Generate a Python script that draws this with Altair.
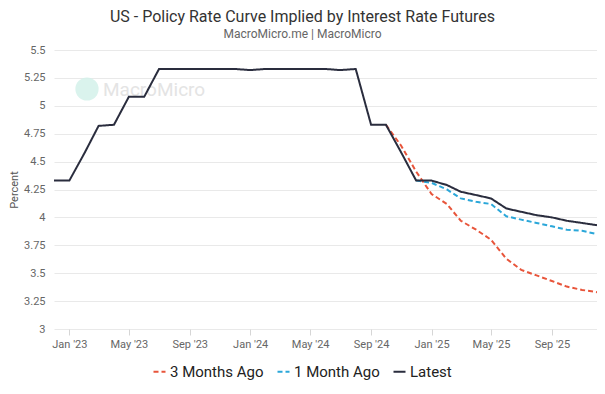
import altair as alt
import pandas as pd

# ---- data ----
months = pd.date_range("2022-12-01", "2025-12-01", freq="MS").strftime("%Y-%m-%d").tolist()

latest = [4.33,
          4.33, 4.58, 4.82, 4.83, 5.08, 5.08, 5.33, 5.33, 5.33, 5.33, 5.33, 5.33,
          5.32, 5.33, 5.33, 5.33, 5.33, 5.33, 5.32, 5.33, 4.83, 4.83, 4.58, 4.33,
          4.33, 4.29, 4.23, 4.20, 4.17, 4.08, 4.05, 4.02, 4.00, 3.97, 3.95, 3.93]

one_month_start = "2024-12-01"
one_month = [4.33, 4.31, 4.25, 4.17, 4.14, 4.12, 4.01, 3.98, 3.95, 3.92, 3.89, 3.88, 3.85]

three_month_start = "2024-10-01"
three_months = [4.83, 4.64, 4.41, 4.21, 4.12, 3.97, 3.89, 3.80, 3.63, 3.53, 3.48, 3.43, 3.38, 3.35, 3.33]

series_names = ["3 Months Ago", "1 Month Ago", "Latest"]
series_colors = ["#e8553b", "#2ba7d9", "#2a2d3e"]
y_ticks = [3, 3.25, 3.5, 3.75, 4, 4.25, 4.5, 4.75, 5, 5.25, 5.5]

rows = []
i3 = months.index(three_month_start)
for d, v in zip(months[i3:], three_months):
    rows.append({"date": d, "value": v, "series": "3 Months Ago"})
i1 = months.index(one_month_start)
for d, v in zip(months[i1:], one_month):
    rows.append({"date": d, "value": v, "series": "1 Month Ago"})
for d, v in zip(months, latest):
    rows.append({"date": d, "value": v, "series": "Latest"})
df = pd.DataFrame(rows)

FONT = "Roboto"

x_ticks = [alt.DateTime(year=y, month=m, date=1, utc=True)
           for y in (2023, 2024, 2025) for m in (1, 5, 9)]

lines = alt.Chart(df).mark_line(strokeWidth=2).encode(
    x=alt.X("date:T",
            scale=alt.Scale(type="utc",
                            domain=[alt.DateTime(year=2022, month=12, date=1, utc=True),
                                    alt.DateTime(year=2025, month=12, date=1, utc=True)]),
            axis=alt.Axis(title=None, values=x_ticks, format="%b '%y", grid=False,
                          domain=False, ticks=True, tickSize=6, tickColor="#d6d6d6",
                          labelPadding=3, labelColor="#666666", labelFontSize=11)),
    y=alt.Y("value:Q",
            scale=alt.Scale(domain=[3, 5.5], nice=False, zero=False),
            axis=alt.Axis(title="Percent", values=y_ticks,
                          labelExpr="datum.value + ''", domain=False, ticks=False, labelPadding=9,
                          gridColor="#e9e9e9", labelColor="#666666", labelFontSize=11,
                          titleColor="#555555", titleFontSize=11, titleFontWeight="normal",
                          titleX=-40, titleBaseline="middle")),
    color=alt.Color("series:N",
                    scale=alt.Scale(domain=series_names, range=series_colors),
                    legend=alt.Legend(title=None, orient="none", legendX=98, legendY=314,
                                      direction="horizontal", symbolType="stroke",
                                      symbolStrokeWidth=2, symbolSize=144,
                                      labelFontSize=15, labelColor="#222222", labelOffset=3,
                                      columnPadding=9, symbolOffset=0, padding=0)),
    strokeDash=alt.StrokeDash("series:N",
                              scale=alt.Scale(domain=series_names,
                                              range=[[5, 3], [5, 3], [1, 0]]),
                              legend=alt.Legend(title=None)),
    order=alt.Order("series:N"),
)

wm_circle = alt.Chart(pd.DataFrame({"a": [0]})).mark_circle(
    size=540, color="#d3f1ea", opacity=0.85
).encode(x=alt.value(33), y=alt.value(39))

wm_text = alt.Chart(pd.DataFrame({"t": ["MacroMicro"]})).mark_text(
    align="left", baseline="middle", fontSize=19, color="#e4e4e4", font=FONT
).encode(x=alt.value(49), y=alt.value(40), text="t:N")

chart = alt.layer(wm_circle, wm_text, lines).properties(
    width=543, height=279,
    autosize=alt.AutoSizeParams(type="none"),
    padding={"left": 46, "top": 42, "right": 0, "bottom": 54},
    title=alt.Title("US - Policy Rate Curve Implied by Interest Rate Futures",
                    subtitle="MacroMicro.me | MacroMicro",
                    anchor="middle", dx=-23, offset=4,
                    fontSize=16, fontWeight="normal", color="#333333",
                    subtitleFontSize=12, subtitleColor="#666666", subtitlePadding=4,
                    font=FONT, subtitleFont=FONT),
).configure(font=FONT).configure_view(stroke=None).configure_axis(labelFont=FONT, titleFont=FONT).configure_legend(labelFont=FONT)

chart.save("out.html", embed_options={"renderer": "svg", "actions": False})
